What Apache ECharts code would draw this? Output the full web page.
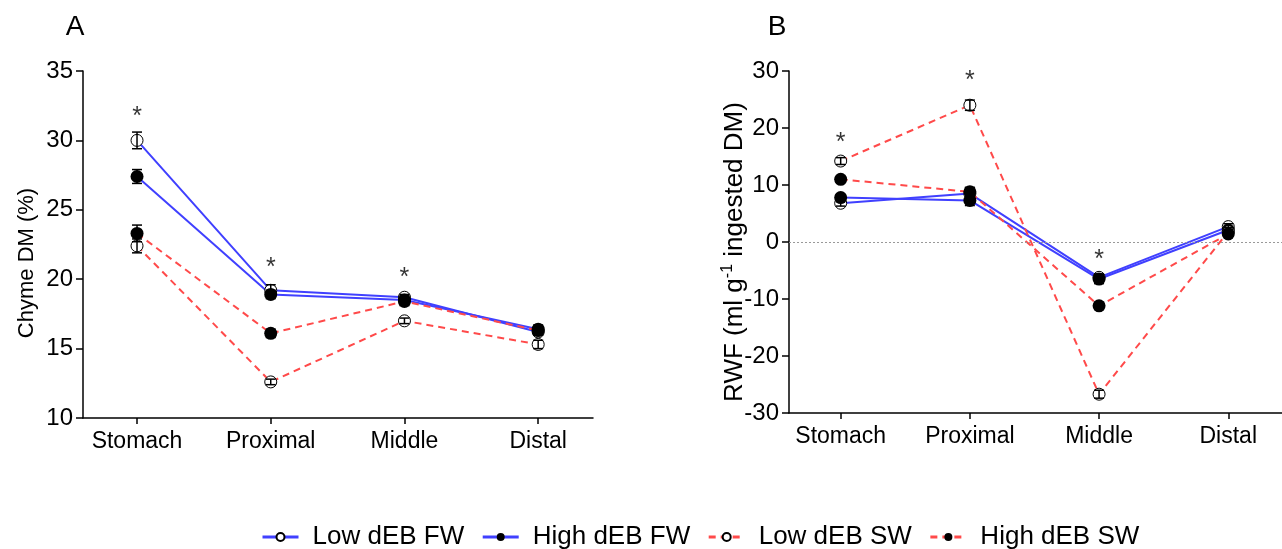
<!DOCTYPE html>
<html><head><meta charset="utf-8">
<script src="https://cdn.jsdelivr.net/npm/echarts@6/dist/echarts.min.js"></script>
<style>html,body{margin:0;padding:0;background:#fff}#c{width:1282px;height:549px}</style>
</head><body><div id="c"></div>
<script>
const categories = ['Stomach', 'Proximal', 'Middle', 'Distal'];
const seriesNames = ['Low dEB FW', 'High dEB FW', 'Low dEB SW', 'High dEB SW'];

// Panel A: Chyme DM (%)
const lowFW_A = [30.0, 19.2, 18.7, 16.2];
const lowFW_A_err = [0.6, 0.4, 0.2, 0.2];
const highFW_A = [27.4, 18.9, 18.5, 16.4];
const highFW_A_err = [0.5, 0.3, 0.3, 0.3];
const lowSW_A = [22.4, 12.6, 17.0, 15.3];
const lowSW_A_err = [0.5, 0.2, 0.2, 0.3];
const highSW_A = [23.3, 16.1, 18.4, 16.3];
const highSW_A_err = [0.6, 0.3, 0.3, 0.3];
const starsA = [[0, 32.1], [1, 21.2], [2, 20.5]];
const yTicksA = [10, 15, 20, 25, 30, 35];

// Panel B: RWF (ml g-1 ingested DM)
const lowFW_B = [6.8, 8.5, -6.2, 2.7];
const lowFW_B_err = [0.5, 0.8, 0.6, 0.5];
const highFW_B = [7.8, 7.3, -6.5, 2.1];
const highFW_B_err = [0.5, 0.9, 0.8, 0.4];
const lowSW_B = [14.2, 24.0, -26.7, 1.8];
const lowSW_B_err = [0.6, 0.9, 0.7, 0.4];
const highSW_B = [11.0, 8.8, -11.2, 1.4];
const highSW_B_err = [0.5, 0.8, 0.6, 0.4];
const starsB = [[0, 18.4], [1, 29.2], [2, -2.1]];
const yTicksB = [-30, -20, -10, 0, 10, 20, 30];

const FONT = 'Liberation Sans, Arial, sans-serif';
const BLUE = '#4040ff';
const RED = '#ff4a4a';

function pts(vals) { return vals.map((v, i) => [i, v]); }
function errPts(vals, errs) { return vals.map((v, i) => [i, v - errs[i], v + errs[i]]); }

function lineSeries(name, vals, gi, open, dashed) {
  return {
    type: 'line', name: name, xAxisIndex: gi, yAxisIndex: gi,
    data: pts(vals), symbol: 'circle', symbolSize: open ? 12 : 13,
    z: 3,
    lineStyle: { color: dashed ? RED : BLUE, width: 2, type: dashed ? [7, 5] : 'solid' },
    itemStyle: open ? { color: '#fff', borderColor: '#000', borderWidth: 1 } : { color: '#000', borderColor: '#000', borderWidth: 0 },
    color: dashed ? RED : BLUE,
    emphasis: { disabled: true }, animation: false
  };
}
function errSeries(vals, errs, gi) {
  return {
    type: 'custom', xAxisIndex: gi, yAxisIndex: gi, data: errPts(vals, errs), z: 4, silent: true,
    renderItem: function (params, api) {
      const lo = api.coord([api.value(0), api.value(1)]);
      const hi = api.coord([api.value(0), api.value(2)]);
      const w = 5;
      const st = { stroke: '#000', lineWidth: 1.5 };
      return { type: 'group', children: [
        { type: 'line', shape: { x1: lo[0], y1: lo[1], x2: hi[0], y2: hi[1] }, style: st },
        { type: 'line', shape: { x1: lo[0] - w, y1: lo[1], x2: lo[0] + w, y2: lo[1] }, style: st },
        { type: 'line', shape: { x1: hi[0] - w, y1: hi[1], x2: hi[0] + w, y2: hi[1] }, style: st }
      ]};
    }, animation: false
  };
}
function starSeries(data, gi) {
  return {
    type: 'scatter', xAxisIndex: gi, yAxisIndex: gi, data: data, symbolSize: 0, z: 5, silent: true,
    label: { show: true, formatter: '*', position: 'inside', offset: [0, 6], color: '#000', fontSize: 25, fontFamily: FONT },
    animation: false
  };
}

function xAxis(gi, min, max) {
  return {
    type: 'value', gridIndex: gi, min: min, max: max,
    splitLine: { show: false },
    axisLine: { show: true, onZero: false, lineStyle: { color: '#000', width: 1.5 } },
    axisTick: { show: true, length: 6, lineStyle: { color: '#000', width: 1.5 }, customValues: [0, 1, 2, 3] },
    axisLabel: { customValues: [0, 1, 2, 3], formatter: v => categories[Math.round(v)], color: '#000', fontSize: 23, fontFamily: FONT, margin: 12 }
  };
}
function yAxis(gi, ticks) {
  return {
    type: 'value', gridIndex: gi, min: ticks[0], max: ticks[ticks.length - 1], interval: ticks[1] - ticks[0],
    splitLine: { show: false },
    axisLine: { show: true, onZero: false, lineStyle: { color: '#000', width: 1.5 } },
    axisTick: { show: true, length: 7, lineStyle: { color: '#000', width: 1.5 } },
    axisLabel: { color: '#000', fontSize: 24, fontFamily: FONT, margin: 10 }
  };
}

const series = [];
// Panel A
series.push(lineSeries(seriesNames[0], lowFW_A, 0, true, false));
series.push(lineSeries(seriesNames[1], highFW_A, 0, false, false));
series.push(lineSeries(seriesNames[2], lowSW_A, 0, true, true));
series.push(lineSeries(seriesNames[3], highSW_A, 0, false, true));
series.push(errSeries(lowFW_A, lowFW_A_err, 0));
series.push(errSeries(highFW_A, highFW_A_err, 0));
series.push(errSeries(lowSW_A, lowSW_A_err, 0));
series.push(errSeries(highSW_A, highSW_A_err, 0));
series.push(starSeries(starsA, 0));
// Panel B
const bLow = lineSeries(seriesNames[0], lowFW_B, 1, true, false);
bLow.markLine = { silent: true, symbol: 'none', label: { show: false }, animation: false,
  lineStyle: { color: '#999', width: 1, type: [2, 2] }, data: [{ yAxis: 0 }] };
series.push(bLow);
series.push(lineSeries(seriesNames[1], highFW_B, 1, false, false));
series.push(lineSeries(seriesNames[2], lowSW_B, 1, true, true));
series.push(lineSeries(seriesNames[3], highSW_B, 1, false, true));
series.push(errSeries(lowFW_B, lowFW_B_err, 1));
series.push(errSeries(highFW_B, highFW_B_err, 1));
series.push(errSeries(lowSW_B, lowSW_B_err, 1));
series.push(errSeries(highSW_B, highSW_B_err, 1));
series.push(starSeries(starsB, 1));

const chart = echarts.init(document.getElementById('c'), null, { renderer: 'canvas' });
chart.setOption({
  animation: false,
  backgroundColor: '#fff',
  grid: [
    { left: 83, top: 71, width: 510, height: 347 },
    { left: 789, top: 71, width: 507, height: 342 }
  ],
  xAxis: [xAxis(0, -0.404, 3.41), xAxis(1, -0.40, 3.416)],
  yAxis: [yAxis(0, yTicksA), yAxis(1, yTicksB)],
  legend: {
    data: seriesNames, left: 256, top: 519, itemWidth: 36, itemHeight: 10, itemGap: 17,
    lineStyle: { width: 3 },
    textStyle: { color: '#000', fontSize: 26, fontFamily: FONT, padding: [0, 0, 0, 9] }
  },
  graphic: [
    { type: 'text', x: 75, y: 27, style: { text: 'A', fill: '#000', font: '28px ' + FONT, textAlign: 'center', textVerticalAlign: 'middle' } },
    { type: 'text', x: 777, y: 27, style: { text: 'B', fill: '#000', font: '28px ' + FONT, textAlign: 'center', textVerticalAlign: 'middle' } },
    { type: 'text', x: 27, y: 263, rotation: Math.PI / 2, style: { text: 'Chyme DM (%)', fill: '#000', font: '22px ' + FONT, textAlign: 'center', textVerticalAlign: 'middle' } },
    { type: 'text', x: 735, y: 252, rotation: Math.PI / 2, style: {
      text: '{a|RWF (ml g}{s|-1}{a| ingested DM)}', fill: '#000', textAlign: 'center', textVerticalAlign: 'middle',
      rich: { a: { fontSize: 26, fontFamily: FONT, fill: '#000', lineHeight: 30 }, s: { fontSize: 16, fontFamily: FONT, fill: '#000', verticalAlign: 'top', lineHeight: 30 } }
    } }
  ],
  series: series
});
</script>
</body></html>
